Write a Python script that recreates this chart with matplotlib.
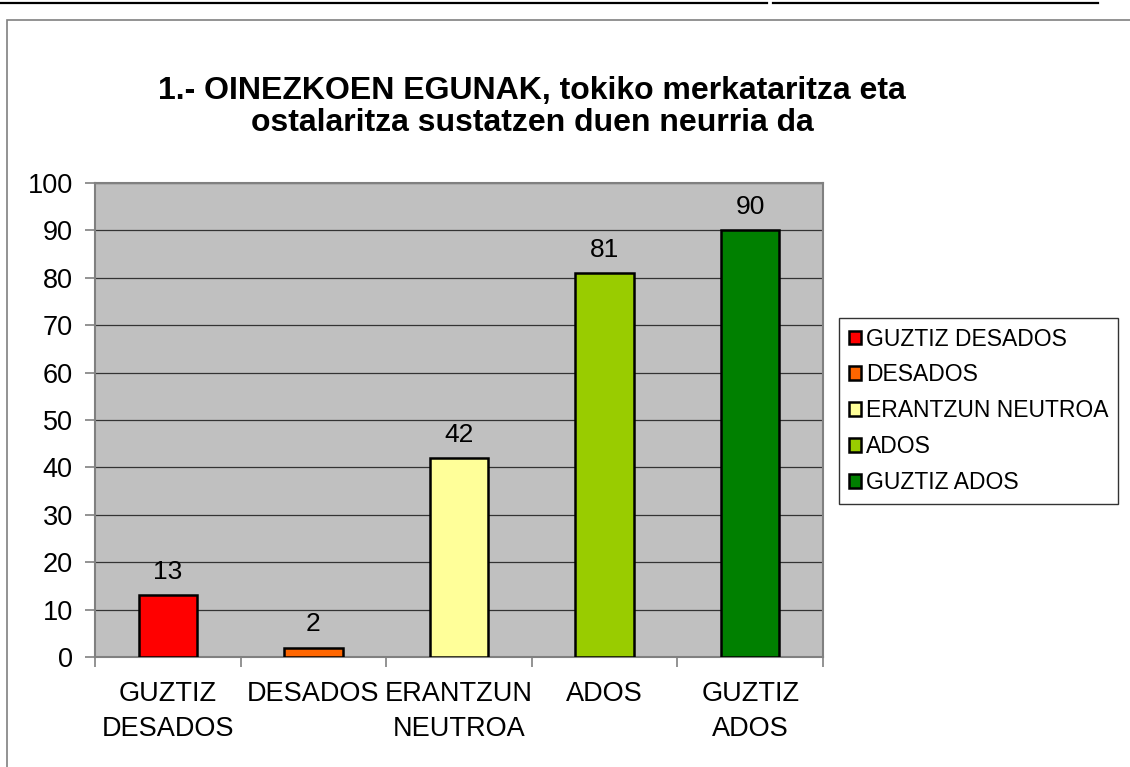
import matplotlib
matplotlib.use("Agg")
import matplotlib.pyplot as plt
from matplotlib.lines import Line2D
from matplotlib.patches import Rectangle
import numpy as np

plt.rcParams['font.family'] = ['Liberation Sans', 'DejaVu Sans']

categories = ["GUZTIZ\nDESADOS", "DESADOS", "ERANTZUN\nNEUTROA", "ADOS", "GUZTIZ\nADOS"]
legend_labels = ["GUZTIZ DESADOS", "DESADOS", "ERANTZUN NEUTROA", "ADOS", "GUZTIZ ADOS"]
values = [13, 2, 42, 81, 90]
colors = ["#FF0000", "#FF6600", "#FFFF99", "#99CC00", "#008000"]
title = "1.- OINEZKOEN EGUNAK, tokiko merkataritza eta\nostalaritza sustatzen duen neurria da"
yticks = [0, 10, 20, 30, 40, 50, 60, 70, 80, 90, 100]

W, H = 1130, 767
fig = plt.figure(figsize=(W / 100, H / 100), dpi=100)
fig.patch.set_facecolor("white")

# decorative page lines and chart border
fig.add_artist(Line2D([0, 767 / W], [1 - 3 / H] * 2, color="black", lw=1.6, transform=fig.transFigure))
fig.add_artist(Line2D([773 / W, 1098 / W], [1 - 3 / H] * 2, color="black", lw=1.6, transform=fig.transFigure))
fig.add_artist(Rectangle((7 / W, -0.05), 1.2, 1 - 20 / H + 0.05, fill=False,
                         edgecolor="#808080", lw=1.2, transform=fig.transFigure))

ax = fig.add_axes([95 / W, 1 - 657 / H, (823 - 95) / W, (657 - 183) / H])
ax.set_facecolor("#C0C0C0")

x = np.arange(len(values))
bars = ax.bar(x, values, width=0.4, color=colors, edgecolor="black", linewidth=1.8, zorder=3)
ax.bar_label(bars, labels=[str(v) for v in values], padding=8, fontsize=19, zorder=4)

ax.set_xlim(-0.5, len(values) - 0.5)
ax.set_ylim(0, 100)
ax.set_yticks(yticks)
ax.set_yticklabels([str(t) for t in yticks], fontsize=19.5)
ax.yaxis.grid(True, color="#333333", lw=0.9, zorder=1)
ax.set_axisbelow(True)

ax.set_xticks(x)
ax.set_xticklabels(categories, fontsize=19.5, linespacing=1.45)
ax.set_xticks(np.arange(len(values) + 1) - 0.5, minor=True)
ax.tick_params(axis="x", which="major", length=0, pad=17)
ax.tick_params(axis="x", which="minor", length=7, color="#808080", width=1.2, direction="out")
ax.tick_params(axis="y", length=7, color="#808080", width=1.2, direction="out", pad=9)

for s in ax.spines.values():
    s.set_color("#808080")
    s.set_linewidth(1.5)

fig.text(532 / W, 1 - 107 / H, title, ha="center", va="center", fontsize=23,
         fontweight="bold", linespacing=1.1)

leg = ax.legend(handles=list(bars), labels=legend_labels, loc="upper left",
                bbox_to_anchor=(839 / W, 1 - 318 / H), bbox_transform=fig.transFigure,
                fontsize=16.5, frameon=True, fancybox=False, edgecolor="black",
                handlelength=0.55, handleheight=0.55, handletextpad=0.2,
                labelspacing=0.56, borderpad=0.42, borderaxespad=0)
leg.get_frame().set_linewidth(1.0)

fig.savefig("out.png", dpi=100)
